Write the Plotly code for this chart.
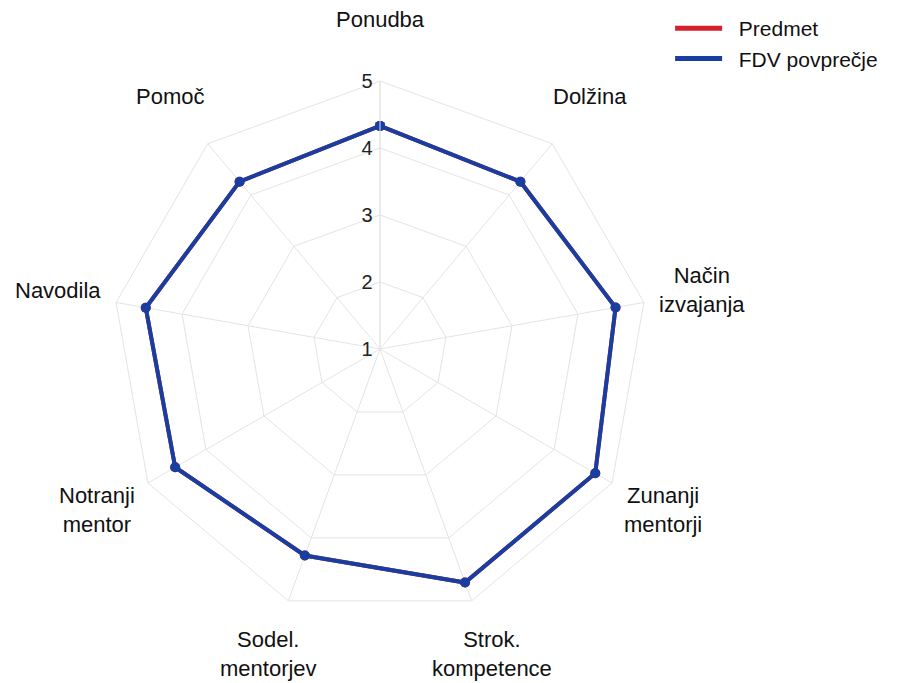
import math
import plotly.graph_objects as go

categories = ["Ponudba", "Dolžina", "Način izvajanja", "Zunanji mentorji",
              "Strok. kompetence", "Sodel. mentorjev", "Notranji mentor",
              "Navodila", "Pomoč"]
category_labels = ["Ponudba", "Dolžina", "Način<br>izvajanja", "Zunanji<br>mentorji",
                   "Strok.<br>kompetence", "Sodel.<br>mentorjev", "Notranji<br>mentor",
                   "Navodila", "Pomoč"]
predmet = [4.33, 4.26, 4.57, 4.71, 4.71, 4.28, 4.53, 4.55, 4.26]
fdv = [4.33, 4.26, 4.57, 4.71, 4.71, 4.28, 4.53, 4.55, 4.26]
radial_ticks = [1, 2, 3, 4, 5]
series_names = ["Predmet", "FDV povprečje"]
series_colors = ["#d3202b", "#173ea0"]
label_scale = 1.22  # label distance relative to the outer grid radius

cats_closed = categories + [categories[0]]

fig = go.Figure()
for name, vals, col in zip(series_names, [predmet, fdv], series_colors):
    fig.add_trace(go.Scatterpolar(
        r=vals + [vals[0]], theta=cats_closed, name=name, showlegend=False,
        mode="lines+markers", line=dict(color=col, width=4),
        marker=dict(size=10, color=col)))
# legend entries (lines only)
for name, col in zip(series_names, series_colors):
    fig.add_trace(go.Scatterpolar(
        r=[None], theta=[categories[0]], name="\u00a0\u00a0" + name, mode="lines",
        line=dict(color=col, width=5), showlegend=True))

# category labels around the polar domain (domain is the full square plot area)
n = len(categories)
for i, lab in enumerate(category_labels):
    ang = 2 * math.pi * i / n
    fig.add_annotation(
        xref="paper", yref="paper",
        x=0.5 + 0.5 * label_scale * math.sin(ang),
        y=0.5 + 0.5 * label_scale * math.cos(ang) + 0.004,
        text=lab, showarrow=False, xanchor="center", yanchor="middle",
        font=dict(size=22, color="#111"), align="center")

fig.update_layout(
    width=907, height=683,
    margin=dict(l=104, r=267, t=73, b=74),
    paper_bgcolor="white",
    font=dict(family="Liberation Sans, Arial, sans-serif", size=22, color="#111"),
    polar=dict(
        domain=dict(x=[0, 1], y=[0, 1]),
        bgcolor="white",
        gridshape="linear",
        angularaxis=dict(direction="clockwise", rotation=90,
                         gridcolor="#e4e4e4", linecolor="#e4e4e4", linewidth=1,
                         showticklabels=False, ticks=""),
        radialaxis=dict(range=[1, 5], tickvals=radial_ticks, angle=90,
                        tickangle=90,
                        gridcolor="#e4e4e4", linecolor="#e4e4e4", showline=True,
                        ticks="", tickfont=dict(size=20, color="#222"),
                        side="counterclockwise"),
    ),
    legend=dict(xref="container", yref="container", x=0.73, y=1.012,
                xanchor="left", yanchor="top", font=dict(size=21),
                tracegroupgap=0, itemwidth=47, bgcolor="rgba(0,0,0,0)"),
)

fig.write_html("out.html")
